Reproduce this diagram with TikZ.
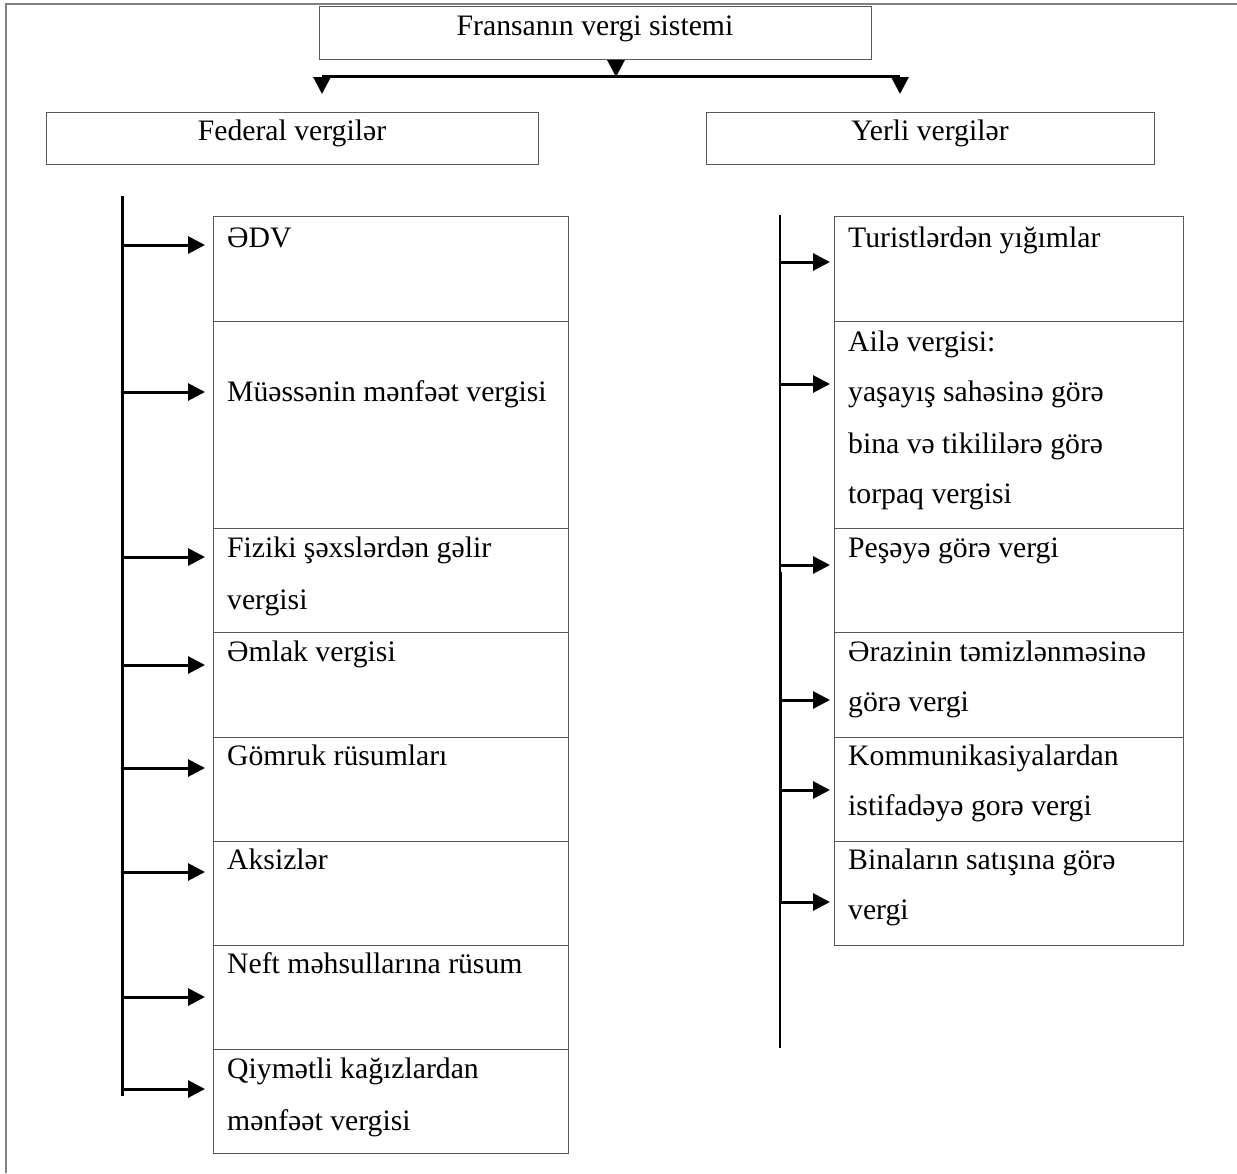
\documentclass[tikz,border=0pt]{standalone}
\usepackage{fontspec}
\setmainfont{Liberation Serif}
\usetikzlibrary{arrows.meta}
\begin{document}
\begin{tikzpicture}[x=1pt,y=-1pt,
  frameline/.style={draw=black!50, line width=2pt},
  box/.style={draw=black!65, line width=1.3pt, anchor=north west, inner sep=0pt},
  cell/.style={draw=black!65, line width=1.2pt, anchor=north west, inner sep=0pt},
  lbl/.style={anchor=base west, inner sep=0pt, font=\fontsize{29.7}{52}\selectfont},
  hdr/.style={anchor=base, inner sep=0pt, font=\fontsize{29.7}{52}\selectfont},
  arr/.style={-{Triangle[length=17pt,width=17pt]}, line width=3pt},
  thickline/.style={line width=3pt},
  thinline/.style={line width=1.4pt},
]
\useasboundingbox (0,0) rectangle (1237,1173);
\fill[white] (0,0) rectangle (1237,1173);
% outer frame
\coordinate (fA) at (6,1173);
\coordinate (fB) at (6,4);
\coordinate (fC) at (1237,4);
\draw[frameline] (fA) -- (fB) -- (fC);

% headers
\node[box, minimum width=552pt, minimum height=53pt] (title) at (319,6) {};
\node[hdr] (ttitle) at (595,35) {Fransanın vergi sistemi};
\node[box, minimum width=492pt, minimum height=52pt] (fed) at (46,112) {};
\node[hdr] (tfed) at (292,140) {Federal vergilər};
\node[box, minimum width=448pt, minimum height=52pt] (yer) at (706,112) {};
\node[hdr] (tyer) at (930,140) {Yerli vergilər};

% top bar
\coordinate (bl) at (322,76);
\coordinate (bm) at (616,76);
\coordinate (br) at (900,76);
\coordinate (blt) at (322,94);
\coordinate (brt) at (900,94);
\draw[thickline] (bl) -- (br);
\draw[arr] (title.south -| bm) -- ([yshift=-1pt]bm);
\draw[arr] ([yshift=-1pt]bl) -- (blt);
\draw[arr] ([yshift=-1pt]br) -- (brt);

% left table
\foreach \i/\t/\b in {1/216/321,2/321/528,3/528/632,4/632/737,5/737/841,6/841/945,7/945/1049,8/1049/1153}{
  \node[cell, minimum width=355pt, minimum height={(\b-\t)*1pt}] (L\i) at (213,\t) {};
}
\node[lbl] (tL1) at (227,247) {ƏDV};
\node[lbl] (tL2) at (227,401) {Müəssənin mənfəət vergisi};
\node[lbl] (tL3a) at (227,557) {Fiziki şəxslərdən gəlir};
\node[lbl] (tL3b) at (227,609) {vergisi};
\node[lbl] (tL4) at (227,661) {Əmlak vergisi};
\node[lbl] (tL5) at (227,765) {Gömruk rüsumları};
\node[lbl] (tL6) at (227,869) {Aksizlər};
\node[lbl] (tL7) at (227,973) {Neft məhsullarına rüsum};
\node[lbl] (tL8a) at (227,1078) {Qiymətli kağızlardan};
\node[lbl] (tL8b) at (227,1130) {mənfəət vergisi};

% left spine
\coordinate (lsTop) at (122,196);
\coordinate (lsBot) at (122,1096);
\draw[thickline] (lsTop) -- (lsBot);
\foreach \i/\y in {1/245,2/392,3/557,4/665,5/768,6/872,7/997,8/1089}{
  \coordinate (la\i) at (122,\y);
  \draw[arr, shorten >=8pt] (la\i) -- (la\i -| L\i.west);
}

% right table
\foreach \i/\t/\b in {1/216/321,2/321/528,3/528/632,4/632/737,5/737/841,6/841/945}{
  \node[cell, minimum width=349pt, minimum height={(\b-\t)*1pt}] (R\i) at (834,\t) {};
}
\node[lbl] (tR1) at (848,247) {Turistlərdən yığımlar};
\node[lbl] (tR2a) at (848,351) {Ailə vergisi:};
\node[lbl] (tR2b) at (848,401) {yaşayış sahəsinə görə};
\node[lbl] (tR2c) at (848,453) {bina və tikililərə görə};
\node[lbl] (tR2d) at (848,503) {torpaq vergisi};
\node[lbl] (tR3) at (848,557) {Peşəyə görə vergi};
\node[lbl] (tR4a) at (848,661) {Ərazinin təmizlənməsinə};
\node[lbl] (tR4b) at (848,711) {görə vergi};
\node[lbl] (tR5a) at (848,765) {Kommunikasiyalardan};
\node[lbl] (tR5b) at (848,815) {istifadəyə gorə vergi};
\node[lbl] (tR6a) at (848,869) {Binaların satışına görə};
\node[lbl] (tR6b) at (848,919) {vergi};

% right spine
\coordinate (rsTop) at (780,215);
\coordinate (rsBot) at (780,1048);
\coordinate (rsT2) at (780,572);
\coordinate (rsB2) at (780,903);
\draw[thinline] (rsTop) -- (rsBot);
\draw[thickline] (rsT2) -- (rsB2);
\foreach \i/\y in {1/262,2/384,3/565,4/700,5/790,6/902}{
  \coordinate (ra\i) at (780,\y);
  \draw[arr, shorten >=4pt] (ra\i) -- (ra\i -| R\i.west);
}
\end{tikzpicture}
\end{document}
